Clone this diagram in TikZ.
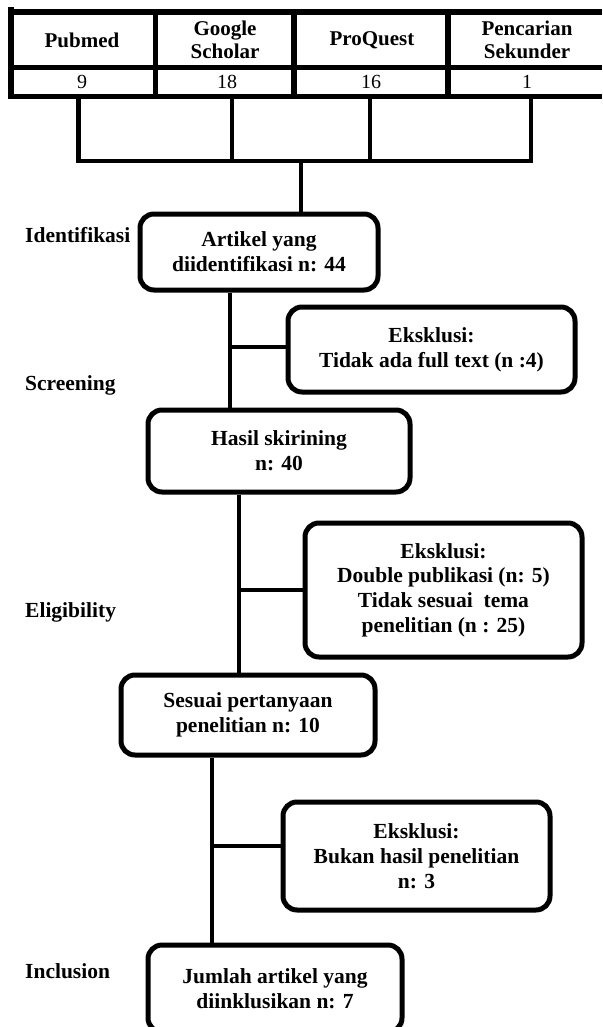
\documentclass[tikz,border=0pt]{standalone}
\usepackage{fontspec}
\setmainfont{Liberation Serif}
\begin{document}
\begin{tikzpicture}[x=1pt,y=-1pt,
  box/.style={draw, line width=5pt, rounded corners=14pt, inner sep=0pt, align=center,
    font=\bfseries\fontsize{21.5}{24.7}\selectfont},
  conn/.style={line width=4.5pt},
  tline/.style={line width=5.5pt},
  lab/.style={anchor=base west, inner sep=0pt, font=\bfseries\fontsize{21.5}{24.7}\selectfont},
  hcell/.style={inner sep=0pt, align=center, font=\bfseries\fontsize{21}{23.5}\selectfont},
  ncell/.style={inner sep=0pt, minimum height=29pt, font=\fontsize{20}{23}\selectfont}]
\useasboundingbox (0,0) rectangle (602,1027);

% table
\draw[tline] (11,7) -- (11,99);
\draw[tline] (8,12) -- (602,12);
\draw[tline] (8,67.5) -- (602,67.5);
\draw[tline] (8,96.5) -- (602,96.5);
\draw[tline] (155.5,12) -- (155.5,96.5);
\draw[tline] (294,12) -- (294,96.5);
\draw[tline] (448,12) -- (448,96.5);

\node[hcell] (pub) at (82,40) {Pubmed};
\node[hcell] (gs) at (225,40) {Google\\Scholar};
\node[hcell] (pq) at (372,40) {ProQuest};
\node[hcell] (ps) at (527,40) {Pencarian\\Sekunder};
\node[ncell] (n1) at (82,82) {9};
\node[ncell] (n2) at (227,82) {18};
\node[ncell] (n3) at (371,82) {16};
\node[ncell] (n4) at (527,82) {1};

% boxes
\node[box, minimum width=238pt, minimum height=76pt] (A) at (259,252) {Artikel yang\\diidentifikasi n: 44};
\node[box, minimum width=287pt, minimum height=85pt] (E1) at (431.5,349.5) {Eksklusi:\\Tidak ada full text (n :4)};
\node[box, minimum width=262pt, minimum height=82pt] (H) at (279,451) {Hasil skirining\\n: 40};
\node[box, minimum width=277pt, minimum height=134pt] (E2) at (443.5,590) {Eksklusi:\\Double publikasi (n: 5)\\Tidak sesuai\ \ tema\\penelitian (n : 25)};
\node[box, minimum width=254pt, minimum height=80pt] (S) at (248,715) {Sesuai pertanyaan\\penelitian n: 10};
\node[box, minimum width=267pt, minimum height=108pt] (E3) at (416.5,856) {Eksklusi:\\Bukan hasil penelitian\\n: 3};
\node[box, minimum width=254pt, minimum height=87pt] (J) at (275,988.5) {Jumlah artikel yang\\diinklusikan n: 7};

% labels
\node[lab] (l1) at (25,242) {Identifikasi};
\node[lab] (l2) at (25,390) {Screening};
\node[lab] (l3) at (25,617) {Eligibility};
\node[lab] (l4) at (25,978) {Inclusion};

% connectors from table
\coordinate (d1) at (78.5,161);
\coordinate (d2) at (232,161);
\coordinate (d3) at (370,161);
\coordinate (d4) at (531,161);
\coordinate (t) at (301,161);
\draw[conn] (d1 |- n1.south) -- (d1) -- (d4) -- (d4 |- n4.south);
\draw[conn] (d2 |- n2.south) -- (d2);
\draw[conn] (d3 |- n3.south) -- (d3);
\draw[conn] (t) -- (t |- A.north);

% flow
\coordinate (b1) at (230,347);
\draw[conn] (b1 |- A.south) -- (b1 |- H.north);
\draw[conn] (b1) -- (b1 -| E1.west);
\coordinate (b2) at (239,590);
\draw[conn] (b2 |- H.south) -- (b2 |- S.north);
\draw[conn] (b2) -- (b2 -| E2.west);
\coordinate (b3) at (212,846);
\draw[conn] (b3 |- S.south) -- (b3 |- J.north);
\draw[conn] (b3) -- (b3 -| E3.west);
\end{tikzpicture}
\end{document}
